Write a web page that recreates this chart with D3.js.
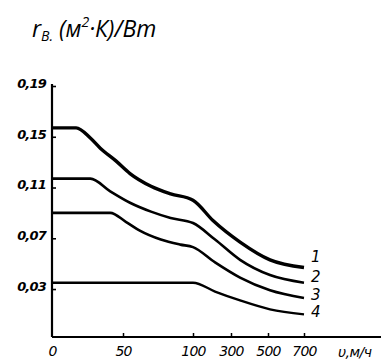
<!DOCTYPE html>
<html><head><meta charset="utf-8">
<script src="https://cdn.jsdelivr.net/npm/d3@7"></script>
<style>body{margin:0;background:#fff}svg{display:block}</style>
</head><body>
<script>
// Data
const xTicks = [0, 50, 100, 300, 500, 700];
const yTicks = [0.03, 0.07, 0.11, 0.15, 0.19];
const yTickLabels = ["0,03", "0,07", "0,11", "0,15", "0,19"];
const curveNames = ["1", "2", "3", "4"];
const u1 = [0, 17, 27, 34, 45, 55, 70, 84, 100, 205, 349, 511, 700];
const v1 = [0.157, 0.157, 0.149, 0.141, 0.131, 0.121, 0.111, 0.105, 0.100, 0.084, 0.067, 0.053, 0.047];
const u2 = [0, 27, 41, 55, 70, 84, 100, 216, 349, 511, 700];
const v2 = [0.117, 0.117, 0.107, 0.098, 0.091, 0.086, 0.082, 0.069, 0.053, 0.041, 0.035];
const u3 = [0, 41, 52, 62, 77, 91, 100, 216, 349, 511, 700];
const v3 = [0.090, 0.090, 0.083, 0.076, 0.069, 0.065, 0.063, 0.051, 0.039, 0.029, 0.023];
const u4 = [0, 100, 216, 349, 511, 700];
const v4 = [0.035, 0.035, 0.028, 0.021, 0.014, 0.010];
const xAxisLabel = "υ,м/ч";

const W = 381, H = 363;
const svg = d3.select("body").append("svg").attr("width", W).attr("height", H);

const x = d3.scaleLinear().domain([0, 50, 100, 300, 500, 700]).range([52, 123, 193, 231, 268, 304]);
const y = d3.scaleLinear().domain([-0.0078, 0.19]).range([337, 86]);

// Title
const title = svg.append("text").attr("x", 32).attr("y", 37)
  .attr("font-family", "Open Sans").attr("font-style", "italic").attr("font-size", 23).attr("fill", "#000");
title.append("tspan").text("r");
title.append("tspan").attr("font-size", 14).attr("dy", 4).text("B.");
title.append("tspan").attr("dy", -4).text(" (м");
title.append("tspan").attr("font-size", 14).attr("dy", -10).text("2");
title.append("tspan").attr("dy", 10).text("·К)/Вт");

// Y axis
const yAxis = d3.axisLeft(y).tickValues(yTicks).tickFormat((d, i) => yTickLabels[i])
  .tickSizeInner(-4).tickSizeOuter(0).tickPadding(6);
const gy = svg.append("g").attr("transform", "translate(52,0)").call(yAxis);
gy.select(".domain").attr("stroke-width", 2.2).attr("d", `M0,${y(0.19)-2}V337`);
gy.selectAll(".tick line").attr("stroke-width", 1.6);
gy.selectAll(".tick text").attr("font-family", "DejaVu Sans").attr("font-style", "italic")
  .attr("font-size", 13).attr("font-weight", "bold").attr("letter-spacing", "-0.8").attr("dy", "0.1em");

// X axis
const xAxis = d3.axisBottom(x).tickValues(xTicks).tickSizeInner(-4).tickSizeOuter(0).tickPadding(9);
const gx = svg.append("g").attr("transform", "translate(0,337)").call(xAxis);
gx.select(".domain").attr("stroke-width", 2).attr("d", "M52,0H381");
gx.selectAll(".tick line").attr("stroke-width", 1.5);
gx.selectAll(".tick").filter(d => d === 0).select("line").remove();
gx.selectAll(".tick text").attr("font-family", "DejaVu Sans").attr("font-style", "italic")
  .attr("font-size", 14).attr("letter-spacing", "-0.8");
svg.append("text").attr("x", 338).attr("y", 357).attr("font-family", "DejaVu Sans")
  .attr("font-style", "italic").attr("font-size", 14).attr("letter-spacing", "-0.5").text(xAxisLabel);

// Curves
const series = [[u1, v1, 3.4], [u2, v2, 2.6], [u3, v3, 2.6], [u4, v4, 2.4]];
const labelDy = [-5, -1, 2, 3];
const line = d3.line().x(d => x(d[0])).y(d => y(d[1])).curve(d3.curveMonotoneX);
series.forEach(([us, vs, w], i) => {
  const pts = us.map((u, j) => [u, vs[j]]);
  svg.append("path").attr("d", line(pts)).attr("fill", "none").attr("stroke", "#000")
    .attr("stroke-width", w).attr("stroke-linejoin", "round");
  const last = pts[pts.length - 1];
  svg.append("text").attr("x", x(last[0]) + 7).attr("y", y(last[1]) + labelDy[i])
    .attr("font-family", "DejaVu Sans").attr("font-style", "italic").attr("font-size", 15)
    .text(curveNames[i]);
});
</script>
</body></html>
